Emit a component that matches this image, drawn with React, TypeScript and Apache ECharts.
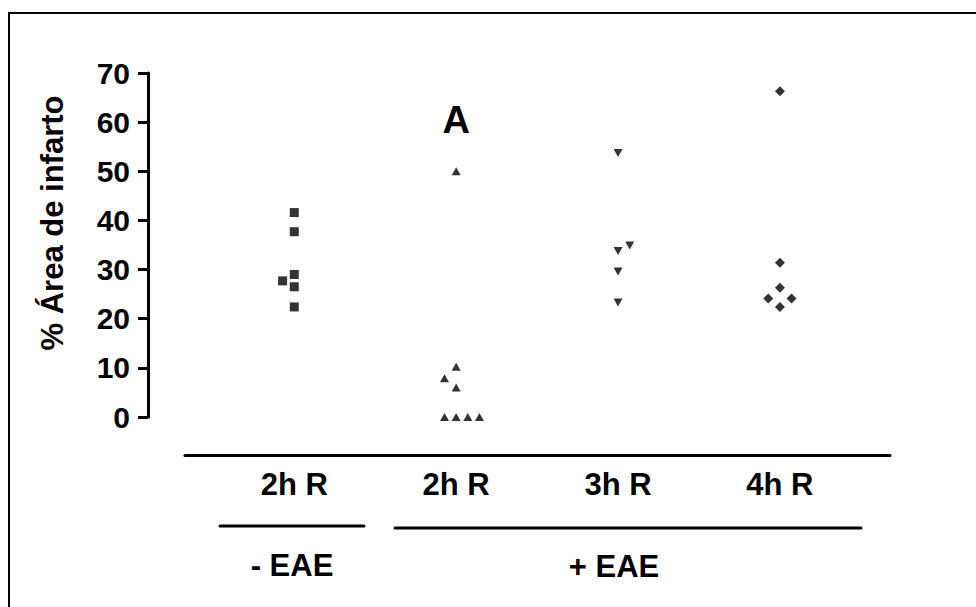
import React, { useEffect, useRef } from "react";
import * as echarts from "echarts";

// ---- data ----
const categories = ["2h R", "2h R", "3h R", "4h R"];
const groupLabels = ["- EAE", "+ EAE"];
const yAxisTitle = "% Área de infarto";
const yMin = 0;
const yMax = 70;
const yInterval = 10;

// values (% infarct area) and horizontal jitter slot for each point
const minusEae2hValues = [41.6, 37.7, 29.0, 27.7, 26.5, 22.4];
const minusEae2hSlots = [0, 0, 0, -1, 0, 0];
const plusEae2hValues = [50.0, 10.2, 7.9, 6.0, 0, 0, 0, 0];
const plusEae2hSlots = [0, 0, -1, 0, -1, 0, 1, 2];
const plusEae3hValues = [53.7, 34.9, 33.8, 29.6, 23.3];
const plusEae3hSlots = [0, 1, 0, 0, 0];
const plusEae4hValues = [66.3, 31.4, 26.3, 24.1, 24.1, 22.4];
const plusEae4hSlots = [0, 0, 0, -1, 1, 0];

const significanceMark = "A";
const significanceLevel = 60.5;

const FONT = 'Arial, "Liberation Sans", sans-serif';
const JITTER = 0.072;

function pts(catIndex: number, values: number[], slots: number[]) {
  return values.map((v, i) => [catIndex + 1 + slots[i] * JITTER, v]);
}

export default function App() {
  const ref = useRef<HTMLDivElement>(null);
  useEffect(() => {
    if (!ref.current) return;
    const chart = echarts.init(ref.current, undefined, { renderer: "svg" });
    const baseSeries = {
      type: "scatter" as const,
      itemStyle: { color: "#000" },
      silent: true,
    };
    chart.setOption({
      animation: false,
      backgroundColor: "#fff",
      textStyle: { fontFamily: FONT },
      grid: { left: 185, right: 86, top: 73, bottom: 190 },
      xAxis: {
        type: "value",
        min: 0.325,
        max: 4.68,
        offset: 38,
        splitLine: { show: false },
        axisTick: { show: false },
        axisLine: { show: true, onZero: false, lineStyle: { color: "#000", width: 3, cap: "round" } },
        axisLabel: {
          customValues: [1, 2, 3, 4],
          formatter: (v: number) => categories[Math.round(v) - 1] ?? "",
          fontSize: 31,
          fontWeight: "bold",
          fontFamily: FONT,
          color: "#000",
          margin: 14,
        },
      },
      yAxis: {
        type: "value",
        min: yMin,
        max: yMax,
        interval: yInterval,
        offset: 37,
        name: yAxisTitle,
        nameLocation: "middle",
        nameRotate: 90,
        nameGap: 80,
        nameTextStyle: {
          fontSize: 31,
          fontWeight: "bold",
          fontFamily: FONT,
          color: "#000",
          padding: [0, 0, 0, 44],
        },
        splitLine: { show: false },
        axisLine: { show: true, onZero: false, lineStyle: { color: "#000", width: 3 } },
        axisTick: { show: true, length: 10, lineStyle: { color: "#000", width: 3 } },
        axisLabel: {
          fontSize: 30,
          fontWeight: "bold",
          fontFamily: FONT,
          color: "#000",
          margin: 18,
        },
      },
      series: [
        {
          ...baseSeries,
          name: "- EAE 2h R",
          symbol: "rect",
          symbolSize: 9,
          data: pts(0, minusEae2hValues, minusEae2hSlots),
        },
        {
          ...baseSeries,
          name: "+ EAE 2h R",
          symbol: "triangle",
          symbolSize: [9, 8],
          data: pts(1, plusEae2hValues, plusEae2hSlots),
          markPoint: {
            symbol: "rect",
            symbolSize: 1,
            itemStyle: { color: "rgba(0,0,0,0)" },
            label: {
              show: true,
              position: "inside",
              formatter: significanceMark,
              fontSize: 38,
              fontWeight: "bold",
              fontFamily: FONT,
              color: "#000",
            },
            data: [{ coord: [2, significanceLevel] }],
          },
        },
        {
          ...baseSeries,
          name: "+ EAE 3h R",
          symbol: "triangle",
          symbolRotate: 180,
          symbolSize: [9, 8],
          data: pts(2, plusEae3hValues, plusEae3hSlots),
        },
        {
          ...baseSeries,
          name: "+ EAE 4h R",
          symbol: "diamond",
          symbolSize: [10, 10],
          data: pts(3, plusEae4hValues, plusEae4hSlots),
        },
      ],
      graphic: [
        // frame
        { type: "line", shape: { x1: 8, y1: 13, x2: 976, y2: 13 }, style: { stroke: "#000", lineWidth: 2 } },
        { type: "line", shape: { x1: 9, y1: 12, x2: 9, y2: 607 }, style: { stroke: "#000", lineWidth: 2 } },
        // group brackets
        { type: "line", shape: { x1: 220, y1: 526, x2: 364, y2: 526 }, style: { stroke: "#000", lineWidth: 3, lineCap: "round" } },
        { type: "line", shape: { x1: 395, y1: 528, x2: 861, y2: 528 }, style: { stroke: "#000", lineWidth: 3, lineCap: "round" } },
        {
          type: "text",
          x: 292,
          y: 565,
          style: { text: groupLabels[0], fontSize: 31, fontWeight: "bold", fontFamily: FONT, fill: "#000", align: "center", verticalAlign: "middle" },
        },
        {
          type: "text",
          x: 614,
          y: 566,
          style: { text: groupLabels[1], fontSize: 31, fontWeight: "bold", fontFamily: FONT, fill: "#000", align: "center", verticalAlign: "middle" },
        },
      ],
    });
    return () => chart.dispose();
  }, []);
  return (
    <div
      ref={ref}
      style={{ position: "fixed", left: 0, top: 0, width: 976, height: 607, background: "#fff" }}
    />
  );
}
